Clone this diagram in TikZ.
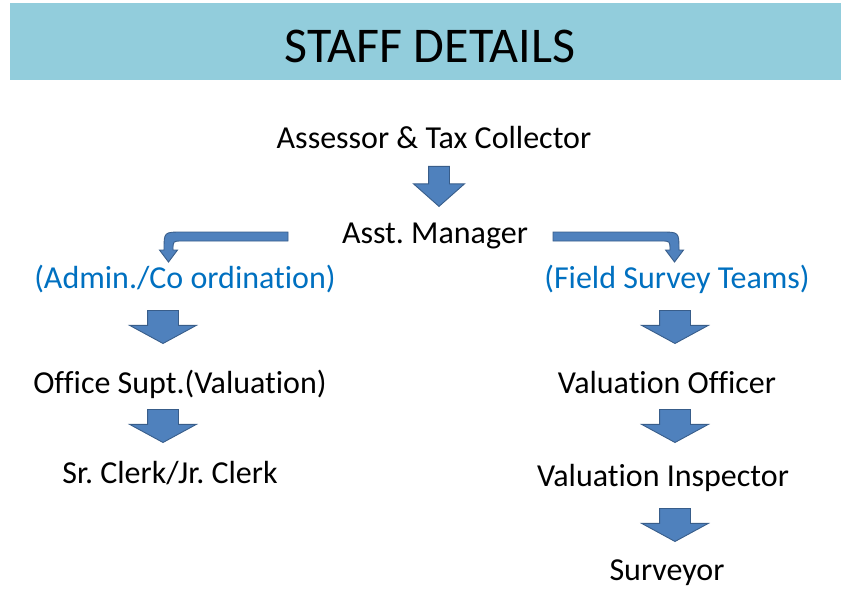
\documentclass[tikz,border=0pt]{standalone}
\usepackage{fontspec}
\setmainfont{Carlito}[Ligatures=NoCommon]
\frenchspacing
\usepackage{tikz}
\usetikzlibrary{shapes.arrows}
\usetikzlibrary{positioning}
\definecolor{bannerblue}{HTML}{92CDDC}
\definecolor{teamblue}{HTML}{0070C0}
\definecolor{arrowfill}{HTML}{4F81BD}
\definecolor{arrowline}{HTML}{385D8A}
\tikzstyle{heading} = [font=\fontsize{50}{60}\selectfont, inner sep=0pt, anchor=base]
\tikzstyle{staff} = [font=\fontsize{32}{38}\selectfont, inner sep=0pt, anchor=base]
\tikzstyle{team} = [staff, text=teamblue]
\tikzstyle{downarrow} = [single arrow, draw=arrowline, fill=arrowfill, line width=0.9pt, rotate=-90, anchor=tip, inner xsep=0pt, inner ysep=15pt, minimum height=33pt, minimum width=66pt, single arrow head extend=18pt, single arrow tip angle=123]
\tikzstyle{small downarrow} = [downarrow, inner ysep=10pt, minimum height=40pt, minimum width=50pt, single arrow head extend=15pt, single arrow tip angle=97]
\tikzstyle{bent arrow} = [draw=arrowline, fill=arrowfill, line width=0.9pt, line join=miter]

\begin{document}
\begin{tikzpicture}[x=1pt, y=-1pt]
            \useasboundingbox (0,0) rectangle (841,589);
            \fill[bannerblue] (10,3) rectangle (841,80);
            \node[heading] (title) at (430,62) {STAFF DETAILS};
            \node[staff] (assessor) at (434,148) {Assessor \& Tax Collector};
            \node[small downarrow] (arrowtop) at (439,207) {};
            \node[staff] (manager) at (435,243) {Asst. Manager};
            \node[team] (admin) at (185,288) {(Admin./Co ordination)};
            \node[team] (field) at (677,288) {(Field Survey Teams)};
            % bent arrows out of the manager
            \draw[bent arrow] (288,232) -- (182,232) .. controls (164,232) .. (164,250) -- (159.5,250) -- (168.5,262) -- (177.5,250) -- (173,250) .. controls (173,241) .. (182,241) -- (288,241) -- cycle;
            \draw[bent arrow] (553,232) -- (661,232) .. controls (679,232) .. (679,250) -- (683.5,250) -- (674.5,262) -- (665.5,250) -- (670,250) .. controls (670,241) .. (661,241) -- (553,241) -- cycle;
            % admin side
            \node[downarrow] (arrowadmin) at (163,344) {};
            \node[staff] (officesupt) at (180,393) {Office Supt.(Valuation)};
            \node[downarrow] (arrowsupt) at (163,443) {};
            \node[staff] (clerk) at (170,483) {Sr. Clerk/Jr. Clerk};
            % field side
            \node[downarrow] (arrowfield) at (675,344) {};
            \node[staff] (officer) at (667,393) {Valuation Officer};
            \node[downarrow] (arrowofficer) at (675,443) {};
            \node[staff] (inspector) at (663,486) {Valuation Inspector};
            \node[downarrow] (arrowinspector) at (675,542) {};
            \node[staff] (surveyor) at (667,580) {Surveyor};
          \end{tikzpicture}
\end{document}
